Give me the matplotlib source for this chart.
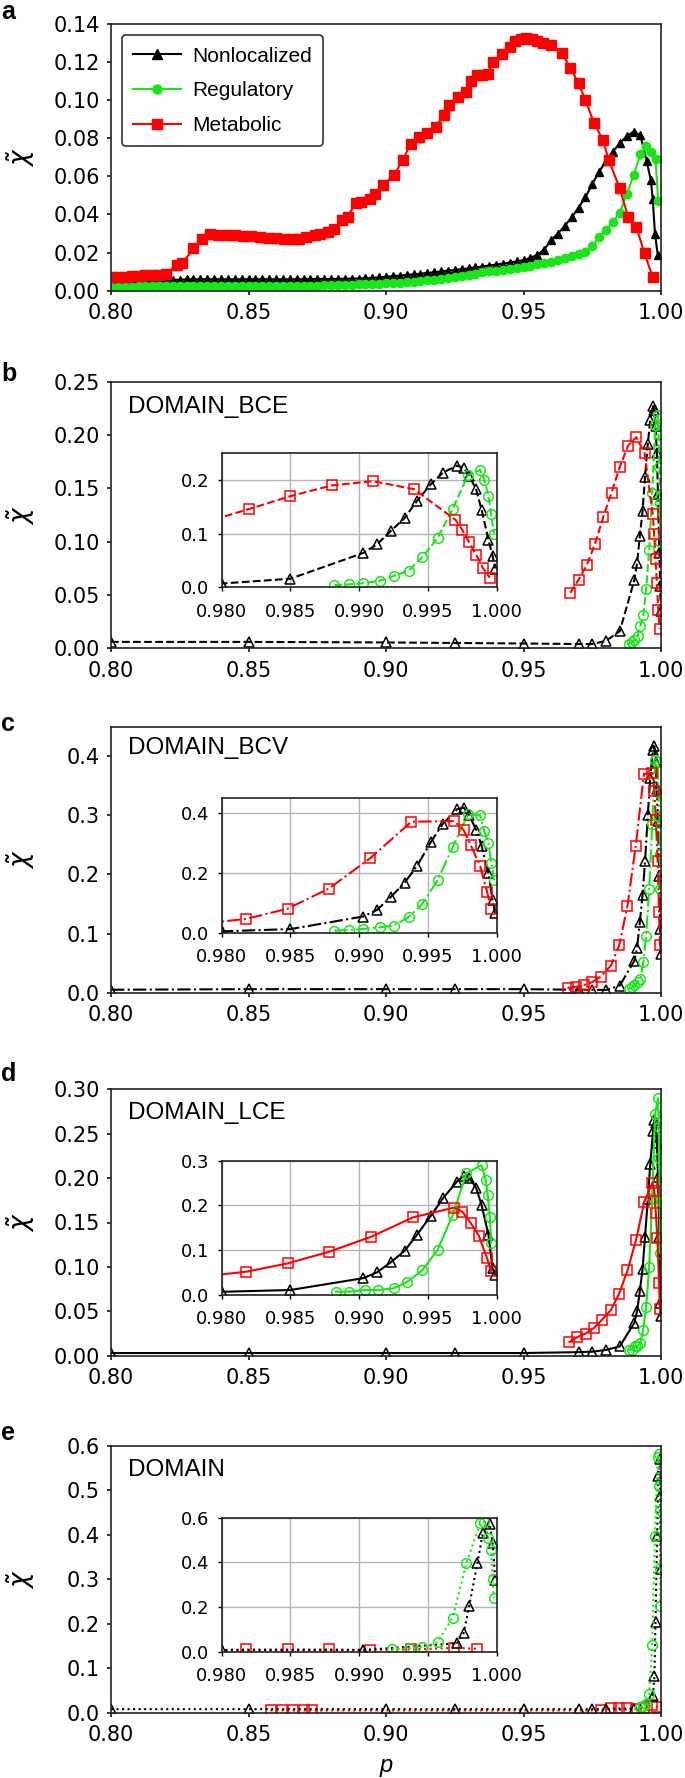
import matplotlib
matplotlib.use("Agg")
import matplotlib.pyplot as plt
from matplotlib.ticker import FormatStrFormatter

plt.rcParams['font.family'] = ['Liberation Sans', 'DejaVu Sans']
plt.rcParams['mathtext.fontset'] = 'dejavusans'

BLACK = 'black'
GREEN = '#19e619'
RED = '#ff0000'
TICK_FONT = 'DejaVu Sans'

# ============================ Panel a data ============================
p_a = [0.8000, 0.8025, 0.8050, 0.8075, 0.8100, 0.8125, 0.8150, 0.8175, 0.8200, 0.8225,
       0.8250, 0.8275, 0.8300, 0.8325, 0.8350, 0.8375, 0.8400, 0.8425, 0.8450, 0.8475,
       0.8500, 0.8525, 0.8550, 0.8575, 0.8600, 0.8625, 0.8650, 0.8675, 0.8700, 0.8725,
       0.8750, 0.8775, 0.8800, 0.8825, 0.8850, 0.8875, 0.8900, 0.8925, 0.8950, 0.8975,
       0.9000, 0.9025, 0.9050, 0.9075, 0.9100, 0.9125, 0.9150, 0.9175, 0.9200, 0.9225,
       0.9250, 0.9275, 0.9300, 0.9325, 0.9350, 0.9375, 0.9400, 0.9425, 0.9450, 0.9475,
       0.9500, 0.9525, 0.9550, 0.9575, 0.9600, 0.9625, 0.9650, 0.9675, 0.9700, 0.9725,
       0.9750, 0.9775, 0.9800, 0.9825, 0.9850, 0.9875, 0.9900]

nonloc_a = [0.0040, 0.0041, 0.0042, 0.0043, 0.0044, 0.0046, 0.0048, 0.0050, 0.0053, 0.0056,
            0.0058, 0.0059, 0.0060, 0.0060, 0.0060, 0.0060, 0.0060, 0.0060, 0.0060, 0.0060,
            0.0060, 0.0060, 0.0060, 0.0060, 0.0060, 0.0060, 0.0060, 0.0060, 0.0060, 0.0061,
            0.0061, 0.0061, 0.0061, 0.0062, 0.0062, 0.0063, 0.0064, 0.0065, 0.0067, 0.0070,
            0.0073, 0.0076, 0.0079, 0.0082, 0.0086, 0.0089, 0.0093, 0.0097, 0.0101, 0.0105,
            0.0109, 0.0113, 0.0117, 0.0122, 0.0127, 0.0132, 0.0137, 0.0142, 0.0148, 0.0154,
            0.0160, 0.0172, 0.0188, 0.0215, 0.0265, 0.0300, 0.0340, 0.0385, 0.0435, 0.0490,
            0.0560, 0.0625, 0.0680, 0.0730, 0.0775, 0.0810, 0.0835]
nonloc_a_tail_p = [0.9925, 0.9948, 0.9963, 0.9970, 0.9978, 0.9988]
nonloc_a_tail = [0.0815, 0.0680, 0.0580, 0.0480, 0.0300, 0.0190]

reg_a = [0.0022, 0.0022, 0.0022, 0.0022, 0.0023, 0.0023, 0.0023, 0.0023, 0.0024, 0.0024,
         0.0024, 0.0024, 0.0024, 0.0024, 0.0024, 0.0024, 0.0025, 0.0025, 0.0025, 0.0025,
         0.0025, 0.0025, 0.0025, 0.0025, 0.0025, 0.0025, 0.0026, 0.0026, 0.0026, 0.0027,
         0.0027, 0.0028, 0.0028, 0.0029, 0.0030, 0.0031, 0.0033, 0.0034, 0.0035, 0.0037,
         0.0038, 0.0040, 0.0042, 0.0045, 0.0047, 0.0050, 0.0054, 0.0058, 0.0063, 0.0068,
         0.0073, 0.0078, 0.0084, 0.0090, 0.0096, 0.0101, 0.0106, 0.0111, 0.0116, 0.0121,
         0.0126, 0.0132, 0.0138, 0.0145, 0.0152, 0.0160, 0.0170, 0.0182, 0.0193, 0.0205,
         0.0235, 0.0280, 0.0320, 0.0360, 0.0410, 0.0505, 0.0605]
reg_a_tail_p = [0.9925, 0.9945, 0.9965, 0.9980, 0.9990]
reg_a_tail = [0.0715, 0.0760, 0.0730, 0.0690, 0.0470]

met_a_p = [0.800, 0.8025, 0.805, 0.8075, 0.810, 0.8125, 0.815, 0.8175, 0.820,
           0.824, 0.826, 0.830, 0.833, 0.836,
           0.839, 0.842, 0.845, 0.848, 0.851, 0.854, 0.857, 0.860, 0.863, 0.866,
           0.8685, 0.871, 0.874, 0.876, 0.879, 0.881, 0.884, 0.886, 0.889, 0.891,
           0.894, 0.896, 0.899, 0.903, 0.906, 0.909, 0.912, 0.915, 0.918, 0.921,
           0.923, 0.926, 0.929, 0.931, 0.933, 0.935, 0.937, 0.939, 0.942, 0.945,
           0.947, 0.949, 0.951, 0.953, 0.955, 0.957, 0.960, 0.964, 0.967, 0.970,
           0.9725, 0.9757, 0.9789, 0.981, 0.985, 0.988, 0.991, 0.994, 0.997]
met_a = [0.0070, 0.0072, 0.0074, 0.0076, 0.0078, 0.0080, 0.0082, 0.0085, 0.0090,
         0.0135, 0.0145, 0.0222, 0.0270, 0.0300,
         0.0295, 0.0290, 0.0290, 0.0285, 0.0285, 0.0280, 0.0278, 0.0275, 0.0270, 0.0270,
         0.0272, 0.0280, 0.0295, 0.0300, 0.0310, 0.0326, 0.0370, 0.0389, 0.0460, 0.0467,
         0.0480, 0.0510, 0.0555, 0.0607, 0.0686, 0.0770, 0.0809, 0.0830, 0.0860, 0.0920,
         0.0975, 0.1019, 0.1045, 0.1100, 0.1130, 0.1130, 0.1140, 0.1200, 0.1240, 0.1280,
         0.1310, 0.1320, 0.1325, 0.1320, 0.1310, 0.1300, 0.1290, 0.1246, 0.1170, 0.1090,
         0.1000, 0.0879, 0.0790, 0.0686, 0.0537, 0.0389, 0.0336, 0.0196, 0.0070]

# ========================= Panels b-e data ==========================
p_nonloc = [0.80, 0.85, 0.90, 0.925, 0.95, 0.97, 0.975, 0.98, 0.985, 0.9903, 0.9913, 0.9923,
            0.9933, 0.9942, 0.9952, 0.9961, 0.9971, 0.9976, 0.998, 0.9985, 0.9989, 0.9994,
            0.9997, 0.9999]
p_reg = [0.9882, 0.9893, 0.9903, 0.9915, 0.9925, 0.9936, 0.9946, 0.9957, 0.9968, 0.9979,
         0.9988, 0.9991, 0.9994, 0.9996, 0.9998]
p_met = [0.967, 0.970, 0.973, 0.976, 0.979, 0.982, 0.985, 0.988, 0.991, 0.994, 0.997,
         0.9975, 0.998, 0.9985, 0.999, 0.9995]

# b: DOMAIN_BCE
nonloc_b = [0.006, 0.006, 0.0055, 0.005, 0.0045, 0.004, 0.004, 0.007, 0.016, 0.064, 0.080,
            0.105, 0.129, 0.161, 0.192, 0.214, 0.227, 0.223, 0.208, 0.183, 0.145, 0.089,
            0.058, 0.035]
reg_b = [0.004, 0.0055, 0.0075, 0.012, 0.021, 0.031, 0.056, 0.092, 0.146, 0.209, 0.219,
         0.201, 0.170, 0.136, 0.100]
met_b = [0.052, 0.064, 0.078, 0.098, 0.123, 0.146, 0.170, 0.190, 0.198, 0.183, 0.126,
         0.107, 0.084, 0.061, 0.036, 0.018]

# c: DOMAIN_BCV
nonloc_c = [0.005, 0.006, 0.006, 0.006, 0.006, 0.005, 0.005, 0.0045, 0.012, 0.054, 0.076,
            0.119, 0.166, 0.222, 0.301, 0.364, 0.411, 0.417, 0.391, 0.344, 0.290, 0.198,
            0.108, 0.065]
reg_c = [0.0067, 0.009, 0.0124, 0.018, 0.0236, 0.0517, 0.0966, 0.175, 0.285, 0.394, 0.391,
         0.338, 0.299, 0.234, 0.175]
p_met_c = [0.966, 0.969, 0.972, 0.975, 0.978, 0.9818, 0.9848, 0.9878, 0.9908, 0.9938,
           0.9969, 0.9976, 0.9981, 0.9988, 0.9993, 0.9996]
met_c = [0.008, 0.010, 0.013, 0.018, 0.027, 0.046, 0.080, 0.147, 0.248, 0.370, 0.372,
         0.342, 0.293, 0.222, 0.136, 0.080]

# d: DOMAIN_LCE
nonloc_d = [0.003, 0.003, 0.003, 0.003, 0.003, 0.004, 0.0045, 0.0065, 0.0105, 0.037, 0.050,
            0.0725, 0.098, 0.134, 0.176, 0.216, 0.253, 0.265, 0.262, 0.2395, 0.201, 0.134,
            0.059, 0.045]
p_reg_d = [0.9883, 0.9893, 0.9904, 0.9914, 0.9925, 0.9935, 0.9946, 0.9957, 0.9968, 0.9978,
           0.9989, 0.9992, 0.99935, 0.9995, 0.9996]
reg_d = [0.0067, 0.0067, 0.0105, 0.0105, 0.014, 0.029, 0.055, 0.100, 0.178, 0.272, 0.290,
         0.257, 0.223, 0.175, 0.116]
p_met_d = [0.9667, 0.9696, 0.9726, 0.9755, 0.9784, 0.9818, 0.9848, 0.9878, 0.9909, 0.9939,
           0.9969, 0.9975, 0.9981, 0.9987, 0.9993, 0.9996]
met_d = [0.0155, 0.021, 0.025, 0.031, 0.040, 0.0515, 0.070, 0.096, 0.130, 0.173, 0.195,
         0.186, 0.161, 0.132, 0.0815, 0.053]

# e: DOMAIN
p_nonloc_e = [0.80, 0.85, 0.90, 0.925, 0.95, 0.97, 0.975, 0.98, 0.9903, 0.9971, 0.9976,
              0.998, 0.9986, 0.999, 0.9995, 0.9997, 0.9999]
nonloc_e = [0.008, 0.008, 0.008, 0.008, 0.008, 0.008, 0.008, 0.0075, 0.0075, 0.0375, 0.0825,
            0.205, 0.3975, 0.5325, 0.570, 0.4875, 0.3225]
p_reg_e = [0.9924, 0.9936, 0.9946, 0.9957, 0.9968, 0.9978, 0.9988, 0.9991, 0.9994, 0.9996,
           0.9997, 0.9998]
reg_e = [0.012, 0.015, 0.0195, 0.042, 0.153, 0.398, 0.575, 0.582, 0.510, 0.455, 0.326, 0.240]
p_met_e = [0.858, 0.862, 0.866, 0.870, 0.873, 0.978, 0.9818, 0.9848, 0.9878, 0.9908,
           0.9938, 0.9969, 0.9986]
met_e = [0.005, 0.005, 0.005, 0.005, 0.005, 0.005, 0.010, 0.010, 0.010, 0.008, 0.010,
         0.017, 0.013]

# ============================== Layout (pixels) ==============================
W, H = 685, 1778
fig = plt.figure(figsize=(W / 100, H / 100), dpi=100)


def add_px_axes(left, top, right, bottom):
    return fig.add_axes([left / W, 1 - bottom / H, (right - left) / W, (bottom - top) / H])


main_tops = [24, 381.7, 726.7, 1089.3, 1446]
main_bottoms = [290.7, 648.3, 992.7, 1355.7, 1712.7]
inset_tops = [453.3, 797.7, 1160.7, 1517.7]
inset_bottoms = [587.3, 932.7, 1294.7, 1651.7]
letter_tops = [0, 362, 712, 1062, 1421]


def set_tick_font(ax, size):
    for lab in ax.get_xticklabels() + ax.get_yticklabels():
        lab.set_fontfamily(TICK_FONT)
        lab.set_fontsize(size)


def style_main(ax, ymax, yticks, yfmt):
    ax.set_xlim(0.80, 1.00)
    ax.set_ylim(0, ymax)
    ax.set_xticks([0.80, 0.85, 0.90, 0.95, 1.00])
    ax.set_yticks(yticks)
    ax.xaxis.set_major_formatter(FormatStrFormatter('%.2f'))
    ax.yaxis.set_major_formatter(FormatStrFormatter(yfmt))
    ax.tick_params(direction='out', length=3, width=1.1, top=False, right=False)
    ax.tick_params(axis='x', pad=6)
    ax.tick_params(axis='y', pad=5)
    set_tick_font(ax, 15)
    for s in ax.spines.values():
        s.set_linewidth(1.2)
        s.set_color('#222222')
    ax.set_ylabel(r'$\tilde{\chi}$', fontsize=19)
    ax.yaxis.set_label_coords(-0.134, 0.5)


def style_inset(ax, ymax, yticks):
    ax.set_xlim(0.98, 1.0)
    ax.set_ylim(0, ymax)
    ax.set_xticks([0.980, 0.985, 0.990, 0.995, 1.000])
    ax.set_yticks(yticks)
    ax.xaxis.set_major_formatter(FormatStrFormatter('%.3f'))
    ax.yaxis.set_major_formatter(FormatStrFormatter('%.1f'))
    ax.grid(True, color='#b4b4b4', linewidth=1.0)
    ax.set_axisbelow(True)
    ax.tick_params(direction='out', length=3, width=1.0)
    ax.tick_params(axis='x', pad=8)
    ax.tick_params(axis='y', pad=6)
    set_tick_font(ax, 13)
    for s in ax.spines.values():
        s.set_linewidth(1.2)
        s.set_color('#222222')


def draw_open(ax, ls, series):
    for x, y, color, marker in series:
        ax.plot(x, y, color=color, linestyle=ls, linewidth=1.5, marker=marker,
                markersize=7, markerfacecolor='none', markeredgecolor=color,
                markeredgewidth=1.1)


# ================================ Panel a ================================
ax_a = add_px_axes(111, main_tops[0], 661, main_bottoms[0])
ax_a.plot(p_a + nonloc_a_tail_p, nonloc_a + nonloc_a_tail, color=BLACK, lw=1.5,
          marker='^', markersize=6, label='Nonlocalized')
ax_a.plot(p_a + reg_a_tail_p, reg_a + reg_a_tail, color=GREEN, lw=1.5,
          marker='o', markersize=6, label='Regulatory')
ax_a.plot(met_a_p, met_a, color=RED, lw=1.5, marker='s', markersize=7, label='Metabolic')
style_main(ax_a, 0.14, [0, 0.02, 0.04, 0.06, 0.08, 0.10, 0.12, 0.14], '%.2f')
leg = ax_a.legend(loc='upper left', bbox_to_anchor=(0.02, 0.958), borderaxespad=0,
                  fontsize=15, frameon=True, fancybox=True, edgecolor='black',
                  handlelength=2.3, handletextpad=0.5, labelspacing=0.75, borderpad=0.55,
                  markerscale=1.1)
leg.get_frame().set_linewidth(1.2)

# ============================== Panels b-e ==============================
panels = [
    ('DOMAIN_BCE', '--', 0.25, [0, 0.05, 0.10, 0.15, 0.20, 0.25], '%.2f', [0, 0.1, 0.2],
     [(p_nonloc, nonloc_b, BLACK, '^'), (p_reg, reg_b, GREEN, 'o'), (p_met, met_b, RED, 's')]),
    ('DOMAIN_BCV', '-.', 0.45, [0, 0.1, 0.2, 0.3, 0.4], '%.1f', [0, 0.2, 0.4],
     [(p_nonloc, nonloc_c, BLACK, '^'), (p_reg, reg_c, GREEN, 'o'), (p_met_c, met_c, RED, 's')]),
    ('DOMAIN_LCE', '-', 0.30, [0, 0.05, 0.10, 0.15, 0.20, 0.25, 0.30], '%.2f', [0, 0.1, 0.2, 0.3],
     [(p_nonloc, nonloc_d, BLACK, '^'), (p_reg_d, reg_d, GREEN, 'o'), (p_met_d, met_d, RED, 's')]),
    ('DOMAIN', ':', 0.60, [0, 0.1, 0.2, 0.3, 0.4, 0.5, 0.6], '%.1f', [0, 0.2, 0.4, 0.6],
     [(p_met_e, met_e, RED, 's'), (p_nonloc_e, nonloc_e, BLACK, '^'), (p_reg_e, reg_e, GREEN, 'o')]),
]

label_y = [0.906, 0.919, 0.91, 0.91]
axes_main = [ax_a]
for i, (name, ls, ymax, yticks, yfmt, iticks, series) in enumerate(panels):
    ax = add_px_axes(111, main_tops[i + 1], 661, main_bottoms[i + 1])
    draw_open(ax, ls, series)
    style_main(ax, ymax, yticks, yfmt)
    ax.text(0.031, label_y[i], name, transform=ax.transAxes, va='center', ha='left',
            fontsize=17.5)
    axes_main.append(ax)

    ins = add_px_axes(221.5, inset_tops[i], 496.7, inset_bottoms[i])
    draw_open(ins, ls, series)
    style_inset(ins, ymax, iticks)

ax_e = axes_main[-1]
ax_e.set_xlabel('p', fontsize=17, style='italic')
ax_e.xaxis.label.set_va('baseline')
ax_e.xaxis.set_label_coords(0.5, -(1771.7 - 1712.7) / 266.7)

for letter, yt in zip('abcde', letter_tops):
    fig.text(0.002, 1 - yt / H, letter, fontsize=18, fontweight='bold', ha='left', va='top')

fig.savefig('out.png', dpi=100)
